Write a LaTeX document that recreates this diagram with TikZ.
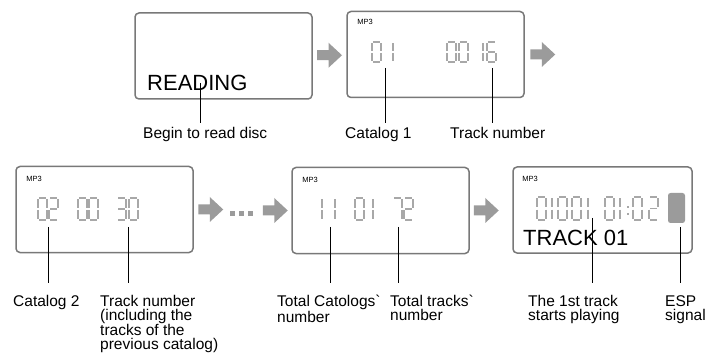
\documentclass[tikz,border=0pt]{standalone}
\usepackage{fontspec}
\usepackage{tikz}
\usepackage{xcolor}
\newfontfamily\labelfont{Liberation Sans}
\usetikzlibrary{calc,positioning}
\definecolor{lcdframe}{RGB}{120,120,120}
\definecolor{lcdgray}{RGB}{168,168,168}
\definecolor{arrowgray}{RGB}{155,155,155}

% seven-segment digits (top-left origin, y grows downwards)
\newcommand\lcdw{9}
\newcommand\lcdh{20}
\newcommand\lcdg{1.1}
\newcommand\segA{\draw[lcdseg] (\lcdg,0)--({\lcdw-\lcdg},0);}
\newcommand\segB{\draw[lcdseg] (\lcdw,\lcdg)--(\lcdw,{\lcdh/2-\lcdg});}
\newcommand\segC{\draw[lcdseg] (\lcdw,{\lcdh/2+\lcdg})--(\lcdw,{\lcdh-\lcdg});}
\newcommand\segD{\draw[lcdseg] (\lcdg,\lcdh)--({\lcdw-\lcdg},\lcdh);}
\newcommand\segE{\draw[lcdseg] (0,{\lcdh/2+\lcdg})--(0,{\lcdh-\lcdg});}
\newcommand\segF{\draw[lcdseg] (0,\lcdg)--(0,{\lcdh/2-\lcdg});}
\newcommand\segG{\draw[lcdseg] (\lcdg,{\lcdh/2})--({\lcdw-\lcdg},{\lcdh/2});}
\expandafter\def\csname lcdd0\endcsname{A,B,C,D,E,F}
\expandafter\def\csname lcdd1\endcsname{B,C}
\expandafter\def\csname lcdd2\endcsname{A,B,G,E,D}
\expandafter\def\csname lcdd3\endcsname{A,B,G,C,D}
\expandafter\def\csname lcdd6\endcsname{A,F,G,E,C,D}
\expandafter\def\csname lcdd7\endcsname{A,B,C}
\newcommand\lcddigit[3]{%
  \begin{scope}[shift={(#1,#2)}]
    \edef\lcdlist{\csname lcdd#3\endcsname}%
    \foreach \s in \lcdlist {\csname seg\s\endcsname}
  \end{scope}}
\newcommand\lcdnum[2]{\foreach \px/\pd in {#2} {\lcddigit{\px}{#1}{\pd}}}

\begin{document}
\begin{tikzpicture}[x=1pt,y=-1pt,
  lcdbox/.style={draw=lcdframe,line width=1.5pt,rounded corners=4pt,
                 minimum width=177pt,minimum height=86pt,inner sep=0pt},
  lcdseg/.style={draw=lcdgray,line width=1.1pt},
  tag/.style={font=\labelfont\fontsize{7.5}{8}\selectfont,inner sep=0pt,anchor=north west},
  bigtext/.style={font=\labelfont\fontsize{22}{24}\selectfont,inner sep=0pt,anchor=base west},
  lbl/.style={font=\labelfont\fontsize{15.5}{14}\selectfont,inner sep=0pt,anchor=north west,align=left},
  leader/.style={draw=black,line width=0.8pt},
  flowarrow/.pic={\fill[arrowgray] (-12.5,-5)--(-1,-5)--(-1,-12.5)--(12.5,0)--(-1,12.5)--(-1,5)--(-12.5,5)--cycle;}]

  \useasboundingbox (0,0) rectangle (706,355);

  % first row
  \node[lcdbox] (reading) at (223.5,56) {};
  \node[lcdbox] (catone) at (435.5,54.5) {};
  \pic (arrone) at ($(reading.east)!0.5!(catone.west)$) {flowarrow};
  \pic (arrtwo) at ([xshift=18pt]catone.east) {flowarrow};

  \node[bigtext] (readtxt) at (147,91) {READING};
  \node[tag] at ([shift={(11,8)}]catone.north west) {MP3};
  \renewcommand\lcdh{20}
  \lcdnum{42}{372/0,384/1}
  \lcdnum{42}{447/0,459/0,474/1,487/6}

  \coordinate (rdmark) at (200,83);
  \coordinate (catmark) at (385,68);
  \coordinate (trkmark) at (492,68);
  \node[lbl] (begin) at (143,127) {Begin to read disc};
  \node[lbl] (catlbl) at (345,127) {Catalog 1};
  \node[lbl] (trklbl) at (450,127) {Track number};
  \draw[leader,shorten >=4pt] (rdmark) -- (rdmark |- begin.north);
  \draw[leader,shorten >=4pt] (catmark) -- (catmark |- catlbl.north);
  \draw[leader,shorten >=4pt] (trkmark) -- (trkmark |- trklbl.north);

  % second row
  \node[lcdbox] (cattwo) at (104.5,209.5) {};
  \node[lcdbox] (total) at (380.5,210.5) {};
  \node[lcdbox,minimum width=179pt] (play) at (602.5,210) {};
  \pic (arrthree) at ([xshift=17pt]cattwo.east) {flowarrow};
  \foreach \x in {232.5,241.5,250.5}
    \fill[arrowgray] (\x-2.5,211.5) rectangle +(5,5);
  \pic (arrfour) at ([xshift=-16pt]total.west) {flowarrow};
  \pic (arrfive) at ([xshift=16.5pt]total.east) {flowarrow};

  \node[tag] at ([shift={(11,10)}]cattwo.north west) {MP3};
  \node[tag] at ([shift={(11,10)}]total.north west) {MP3};
  \node[tag] at ([shift={(10,10)}]play.north west) {MP3};

  \renewcommand\lcdh{22}
  \lcdnum{198}{38/0,49/2}
  \lcdnum{198}{78/0,89/0}
  \lcdnum{198}{117/3,129/0}
  \lcdnum{198}{313/1,326/1}
  \lcdnum{198}{355/0,364/1}
  \lcdnum{198}{393/7,404/2}
  \renewcommand\lcdh{23}
  \lcdnum{197}{537/0,543/1,558/0,572/0,579/1}
  \lcdnum{197}{605/0,611/1,633/0,649/2}
  \fill[lcdgray] (627,206.5) rectangle +(2,2);
  \fill[lcdgray] (627,213.5) rectangle +(2,2);
  \fill[arrowgray,rounded corners=2.5pt] (668,193) rectangle (685,223);
  \node[bigtext] (tracktxt) at (523,246) {TRACK 01};

  \coordinate (cat2mark) at (48,227);
  \coordinate (trk2mark) at (128,227);
  \coordinate (totcmark) at (330,227);
  \coordinate (tottmark) at (398,227);
  \coordinate (playmark) at (592,218);
  \coordinate (espmark) at (680,227);
  \node[lbl] (cat2lbl) at (13,295) {Catalog 2};
  \node[lbl] (trk2lbl) at (100,295) {Track number\\(including the\\tracks of the\\previous catalog)};
  \node[lbl] (totclbl) at (277,295) {Total Catologs`\\number};
  \node[lbl] (tottlbl) at (390,295) {Total tracks`\\number};
  \node[lbl] (playlbl) at (528,295) {The 1st track\\starts playing};
  \node[lbl] (esplbl) at (665,295) {ESP\\signal};
  \foreach \m/\l in {cat2mark/cat2lbl,trk2mark/trk2lbl,totcmark/totclbl,
                     tottmark/tottlbl,playmark/playlbl,espmark/esplbl}
    \draw[leader,shorten >=12pt] (\m) -- (\m |- \l.north);
\end{tikzpicture}
\end{document}
